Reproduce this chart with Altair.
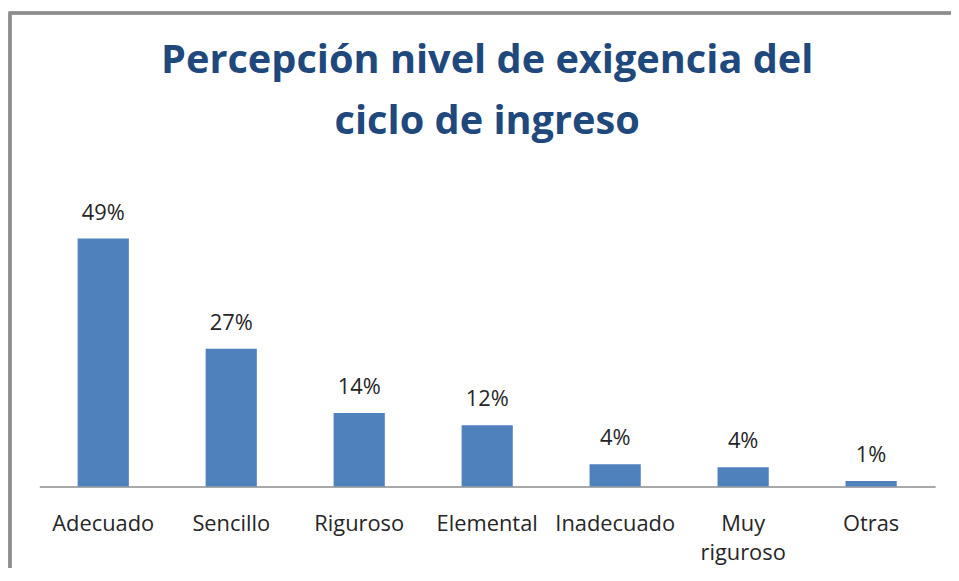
import altair as alt
import pandas as pd

categories = ["Adecuado", "Sencillo", "Riguroso", "Elemental", "Inadecuado", "Muy riguroso", "Otras"]
values = [0.49, 0.272, 0.145, 0.121, 0.044, 0.038, 0.011]
title_lines = ["Percepción nivel de exigencia del", "ciclo de ingreso"]

df = pd.DataFrame({"categoria": categories, "valor": values})

W = 902.5
H = 306
FONT = "Open Sans"

x_enc = alt.X(
    "categoria:N",
    sort=categories,
    scale=alt.Scale(paddingInner=0.6, paddingOuter=0.3),
    axis=alt.Axis(
        title=None,
        labelAngle=0,
        ticks=False,
        domainColor="#8c8c8c",
        domainWidth=1.5,
        labelFont=FONT,
        labelFontSize=22,
        labelColor="#262626",
        labelPadding=27,
        labelLineHeight=30,
        labelExpr="split(datum.label, ' ')",
    ),
)
y_enc = alt.Y(
    "valor:Q",
    scale=alt.Scale(domain=[0, 0.6], nice=False),
    axis=None,
)

bars = alt.Chart(df).mark_bar(color="#4F81BD").encode(x=x_enc, y=y_enc)

labels = alt.Chart(df).mark_text(
    baseline="alphabetic", dy=-19, font=FONT, fontSize=22, color="#262626"
).encode(x=alt.X("categoria:N", sort=categories), y="valor:Q", text=alt.Text("valor:Q", format=".0%"))

frame = alt.Chart(df).mark_rect(fill=None, stroke="#8c8c8c", strokeWidth=2.5).encode(
    x=alt.value(-29.5), x2=alt.value(W + 60), y=alt.value(-171), y2=alt.value(H + 120)
)

chart = (
    alt.layer(frame, bars, labels)
    .properties(
        width=W,
        height=H,
        view=alt.ViewBackground(stroke="transparent", strokeWidth=0),
        title=alt.TitleParams(
            text=title_lines,
            font=FONT,
            fontSize=40,
            fontWeight="bold",
            color="#1F497D",
            anchor="middle",
            frame="group",
            baseline="alphabetic",
            offset=-163,
            lineHeight=61,
        ),
        autosize=alt.AutoSizeParams(type="none"),
        padding={"left": 31.5, "top": 174, "right": 16, "bottom": 80},
    )
    .configure_view(stroke="transparent", strokeWidth=0)
    .configure(background="white")
)

chart.save("out.html", embed_options={"renderer": "svg", "actions": False})
